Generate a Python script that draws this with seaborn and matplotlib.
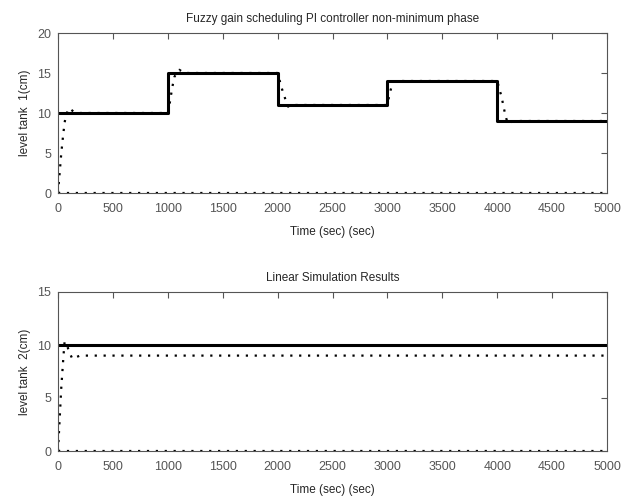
import numpy as np
import pandas as pd
import matplotlib
matplotlib.use("Agg")
import matplotlib.pyplot as plt
import seaborn as sns

# setpoint steps for tank 1
sp1_time = [0, 1000, 1000, 2000, 2000, 3000, 3000, 4000, 4000, 5000]
sp1_level = [10, 10, 15, 15, 11, 11, 14, 14, 9, 9]

y1_time = [0, 15, 30, 45, 60, 75, 100, 140, 200, 1000, 1015, 1030, 1045, 1060, 1080, 1105, 1150,
           2000, 2020, 2040, 2060, 2075, 2095, 2150, 3000, 3020, 3040, 3060, 3080,
           4000, 4020, 4040, 4055, 4070, 4085, 4100, 4150, 5000]
y1_level = [0, 2.5, 5, 7, 8.8, 9.8, 10.6, 10.2, 10, 10, 11, 12.3, 13.5, 14.5, 15.0, 15.4, 15,
            15, 14, 13, 12.2, 11.5, 10.8, 11, 11, 12.4, 13.4, 13.9, 14,
            14, 13, 12, 11, 10, 9.2, 8.7, 9, 9]

# tank 2
sp2_time = [0, 5000]
sp2_level = [10, 10]
y2_time = [0, 10, 20, 30, 40, 50, 60, 80, 105, 130, 200, 5000]
y2_level = [0, 2, 4, 6, 7.5, 9, 10.3, 10, 9.3, 8.7, 9, 9]

zero_time = [0, 5000]
zero_level = [0, 0]

sns.set_style("white")
plt.rcParams['font.family'] = ['Liberation Sans', 'DejaVu Sans']
plt.rcParams['font.size'] = 8.5

fig = plt.figure(figsize=(6.28, 4.96), dpi=100)
ax1 = fig.add_axes([58 / 628, 1 - 193 / 496, 549 / 628, 160 / 496])
ax2 = fig.add_axes([58 / 628, 1 - 451 / 496, 549 / 628, 159 / 496])

dots = (0, (1, 3))


def draw(ax, sp_t, sp_y, y_t, y_y, ymax, yticks, ylab, title):
    df_sp = pd.DataFrame({"t": sp_t, "y": sp_y})
    df_y = pd.DataFrame({"t": y_t, "y": y_y})
    df_z = pd.DataFrame({"t": zero_time, "y": zero_level})
    sns.lineplot(data=df_z, x="t", y="y", ax=ax, color="black", lw=1.6,
                 linestyle=dots, sort=False, estimator=None)
    sns.lineplot(data=df_y, x="t", y="y", ax=ax, color="black", lw=1.6,
                 linestyle=dots, sort=False, estimator=None)
    sns.lineplot(data=df_sp, x="t", y="y", ax=ax, color="black", lw=2.2,
                 sort=False, estimator=None)
    ax.set_xlim(0, 5000)
    ax.set_ylim(0, ymax)
    ax.set_xticks(np.arange(0, 5001, 500))
    ax.set_yticks(yticks)
    ax.tick_params(direction="in", top=True, right=True, length=4, width=0.8,
                   labelsize=9, color="#555555", labelcolor="#555555")
    ax.tick_params(axis="x", pad=7)
    ax.tick_params(axis="y", pad=5)
    for s in ax.spines.values():
        s.set_color("#555555")
        s.set_linewidth(0.8)
    ax.set_xlabel("Time (sec) (sec)", fontsize=8.5, labelpad=8)
    ax.set_ylabel(ylab, fontsize=8.5, labelpad=4)
    ax.set_title(title, fontsize=8.5, pad=8)


draw(ax1, sp1_time, sp1_level, y1_time, y1_level, 20, [0, 5, 10, 15, 20],
     "level tank  1(cm)", "Fuzzy gain scheduling PI controller non-minimum phase")
draw(ax2, sp2_time, sp2_level, y2_time, y2_level, 15, [0, 5, 10, 15],
     "level tank  2(cm)", "Linear Simulation Results")

fig.savefig("out.png", dpi=100)
